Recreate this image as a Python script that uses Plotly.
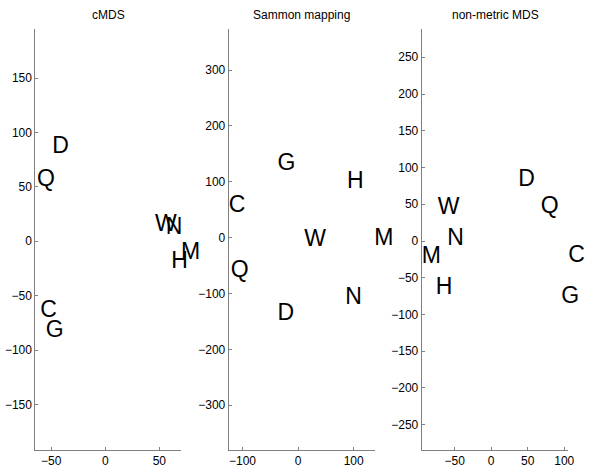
import plotly.graph_objects as go

W, H = 591, 468

labels_cmds = ["D", "Q", "W", "N", "M", "H", "C", "G"]
x_cmds = [-49, -63, 46, 56, 70, 61, -60, -55]
y_cmds = [86, 56, 15, 12, -11, -19, -64, -83]

labels_sammon = ["G", "H", "C", "W", "M", "Q", "N", "D"]
x_sammon = [-37, 88, -124.5, 11, 137, -121, 85, -37]
y_sammon = [132, 99, 56, -4, -3, -61, -108, -138]

labels_nmds = ["D", "Q", "W", "N", "M", "H", "C", "G"]
x_nmds = [37, 68, -73, -60, -95, -76, 105.5, 96]
y_nmds = [82, 46, 45, 2, -22, -65, -21, -77]

titles = ["cMDS", "Sammon mapping", "non-metric MDS"]

# axis ranges and ticks
xr = [[-64.6, 70.4], [-124.9, 138.6], [-95.1, 105.8]]
yr = [[-191.6, 194.7], [-379.7, 372.9], [-284.1, 288.0]]
xt = [[-50, 0, 50], [-100, 0, 100], [-50, 0, 50, 100]]
yt = [[-150, -100, -50, 0, 50, 100, 150],
      [-300, -200, -100, 0, 100, 200, 300],
      [-250, -200, -150, -100, -50, 0, 50, 100, 150, 200, 250]]

# pixel domains
xdom_px = [(35.7, 183.3), (231.0, 379.0), (426.0, 574.3)]
ytop_px, ybot_px = 29.5, 451.7

FONT = "Liberation Sans, Arial, sans-serif"

fig = go.Figure()
data = [(labels_cmds, x_cmds, y_cmds), (labels_sammon, x_sammon, y_sammon),
        (labels_nmds, x_nmds, y_nmds)]
for i, (lab, xs, ys) in enumerate(data):
    sfx = "" if i == 0 else str(i + 1)
    fig.add_trace(go.Scatter(
        x=xs, y=ys, text=lab, mode="text", textposition="middle right",
        textfont=dict(family=FONT, size=23, color="black"),
        xaxis="x" + sfx, yaxis="y" + sfx, cliponaxis=False,
        showlegend=False, hoverinfo="skip"))

layout = dict(width=W, height=H, margin=dict(l=0, r=0, t=0, b=0),
              paper_bgcolor="white", plot_bgcolor="white", showlegend=False)
annotations = []
for i in range(3):
    sfx = "" if i == 0 else str(i + 1)
    x0, x1 = xdom_px[i]
    axstyle = dict(showline=True, linecolor="#808080", linewidth=1,
                   ticks="inside", ticklen=3, tickcolor="#808080",
                   showgrid=False, zeroline=False, mirror=False,
                   tickfont=dict(family=FONT, size=12, color="black"))
    layout["xaxis" + sfx] = dict(domain=[x0 / W, x1 / W], range=xr[i],
                                 tickvals=xt[i], anchor="y" + sfx, **axstyle)
    layout["yaxis" + sfx] = dict(domain=[(H - ybot_px) / H, (H - ytop_px) / H],
                                 range=yr[i], tickvals=yt[i],
                                 anchor="x" + sfx, **axstyle)
    annotations.append(dict(text=titles[i], x=(x0 + x1) / 2 / W, y=1 - 15 / H,
                            xref="paper", yref="paper", showarrow=False,
                            xanchor="center", yanchor="middle",
                            font=dict(family=FONT, size=12, color="black")))
layout["annotations"] = annotations
fig.update_layout(**layout)
fig.write_html("out.html")
